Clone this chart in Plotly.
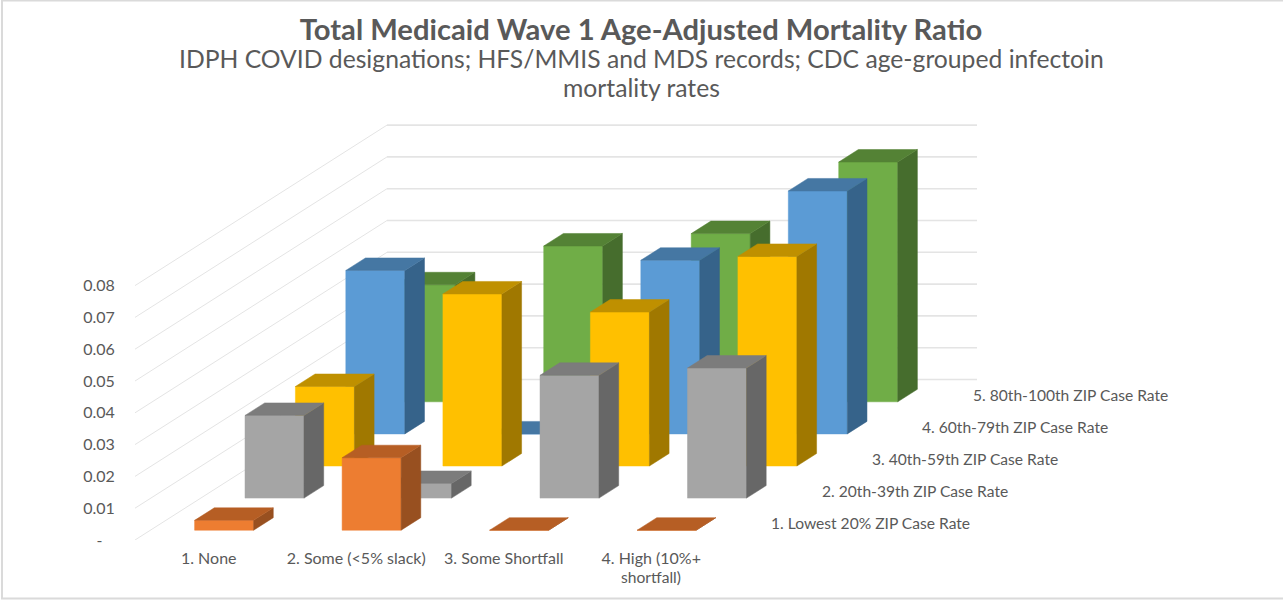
import plotly.graph_objects as go

# ---- data ----
categories = ["1. None", "2. Some (<5% slack)", "3. Some Shortfall", "4. High (10%+"]
category_continuation = "shortfall)"
series_names = ["1. Lowest 20% ZIP Case Rate", "2. 20th-39th ZIP Case Rate", "3. 40th-59th ZIP Case Rate",
                "4. 60th-79th ZIP Case Rate", "5. 80th-100th ZIP Case Rate"]
lowest_20 = [0.0031, 0.0228, 0.0, 0.0]
pct_20_39 = [0.026, 0.0046, 0.0386, 0.0409]
pct_40_59 = [0.025, 0.0541, 0.0484, 0.0659]
pct_60_79 = [0.0514, 0.0, 0.0546, 0.0764]
pct_80_100 = [0.0368, 0.049, 0.0529, 0.0754]
y_ticks = [0, 0.01, 0.02, 0.03, 0.04, 0.05, 0.06, 0.07, 0.08]
y_tick_labels = ["-\u00a0\u00a0\u00a0", "0.01", "0.02", "0.03", "0.04", "0.05", "0.06", "0.07", "0.08"]
title_text = "Total Medicaid Wave 1 Age-Adjusted Mortality Ratio"
subtitle_lines = ["IDPH COVID designations; HFS/MMIS and MDS records; CDC age-grouped infectoin", "mortality rates"]

series_values = [lowest_20, pct_20_39, pct_40_59, pct_60_79, pct_80_100]
front_colors = ["#ED7D31", "#A5A5A5", "#FFC000", "#5B9BD5", "#70AD47"]
top_colors = ["#B65E24", "#7C7C7C", "#BF9000", "#4577A3", "#548235"]
side_colors = ["#985020", "#676767", "#A07800", "#36638A", "#466D2D"]
GRID = "#E4E4E4"
TEXT = "#595959"
FONT = "Lato"

# ---- layout constants (pixels) ----
W, H = 1283, 600
L, T, B = 135, 100, 60
PX_PER_CAT = 147.5
PX_PER_VALUE = 3180.0
DEPTH_DX, DEPTH_DY = 50.4, 32.1      # oblique shift per series row
GAP = 0.3                            # gap each side of a bar in category units
BAR_W = 0.4
BAR_D = 0.39
D_GAP = (1 - BAR_D) / 2


def proj(x, d, v):
    """Oblique projection of (category, depth, value) on the 2D axes."""
    return x + d * DEPTH_DX / PX_PER_CAT, v + d * DEPTH_DY / PX_PER_VALUE


def poly(points):
    xs, ys = zip(*[proj(*p) for p in points])
    return list(xs) + [xs[0], None], list(ys) + [ys[0], None]


fig = go.Figure()

# walls' gridlines
n_cat, n_ser = len(categories), len(series_names)
for v in y_ticks:
    x0, y0 = proj(0, 0, v)
    x1, y1 = proj(0, n_ser, v)
    x2, y2 = proj(n_cat, n_ser, v)
    fig.add_trace(go.Scatter(x=[x0, x1], y=[y0, y1], mode="lines", line=dict(color=GRID, width=1), hoverinfo="skip"))
    fig.add_trace(go.Scatter(x=[x1, x2], y=[y1, y2], mode="lines", line=dict(color=GRID, width=1.6), hoverinfo="skip"))

# bars, painted from the back row to the front row
for s in range(n_ser - 1, -1, -1):
    fx, fy, tx, ty, sx, sy = [], [], [], [], [], []
    d0, d1 = s + D_GAP, s + D_GAP + BAR_D
    for c, v in enumerate(series_values[s]):
        x0, x1 = c + GAP, c + GAP + BAR_W
        a, b = poly([(x0, d0, 0), (x1, d0, 0), (x1, d0, v), (x0, d0, v)])
        fx += a; fy += b
        a, b = poly([(x0, d0, v), (x1, d0, v), (x1, d1, v), (x0, d1, v)])
        tx += a; ty += b
        a, b = poly([(x1, d0, 0), (x1, d1, 0), (x1, d1, v), (x1, d0, v)])
        sx += a; sy += b
    for xs, ys, col in ((fx, fy, front_colors[s]), (sx, sy, side_colors[s]), (tx, ty, top_colors[s])):
        fig.add_trace(go.Scatter(x=xs, y=ys, mode="lines", fill="toself", fillcolor=col,
                                 line=dict(color=col, width=0.5), name=series_names[s], hoverinfo="name"))


def paper_x(px):
    return (px - L) / (W - L)


def paper_y(py):
    return (H - B - py) / (H - B - T)


# depth axis labels
annotations = []
for s, name in enumerate(series_names):
    ax, ay = proj(n_cat, s + 0.5, 0)
    annotations.append(dict(x=ax, y=ay, xref="x", yref="y", text=name, showarrow=False, xanchor="left",
                            yanchor="middle", xshift=19, yshift=1, font=dict(family=FONT, size=15.6, color=TEXT)))

# subtitle lines and the wrapped part of the last category label
for line, py in zip(subtitle_lines, (59, 88)):
    annotations.append(dict(x=paper_x(641), y=paper_y(py), xref="paper", yref="paper", showarrow=False, text=line,
                            xanchor="center", yanchor="middle", font=dict(family=FONT, size=24.7, color=TEXT)))
annotations.append(dict(x=n_cat - 0.5, y=paper_y(577), xref="x", yref="paper", showarrow=False,
                        text=category_continuation, xanchor="center", yanchor="middle",
                        font=dict(family=FONT, size=15.6, color=TEXT)))

fig.update_layout(
    width=W, height=H, showlegend=False, plot_bgcolor="white", paper_bgcolor="white",
    margin=dict(l=L, r=0, t=T, b=B, pad=0),
    title=dict(text="<b>" + title_text + "</b>", x=641 / W, xanchor="center",
               y=1 - 30 / H, yanchor="middle", yref="container", font=dict(family=FONT, size=29.2, color=TEXT)),
    xaxis=dict(range=[0, (W - L) / PX_PER_CAT], tickvals=[i + 0.5 for i in range(n_cat)], ticktext=categories,
               showgrid=False, zeroline=False, showline=False, ticks="outside", ticklen=4, tickcolor="rgba(0,0,0,0)",
               tickfont=dict(family=FONT, size=16, color=TEXT), tickangle=0, fixedrange=True),
    yaxis=dict(range=[0, (H - B - T) / PX_PER_VALUE], tickvals=y_ticks, ticktext=y_tick_labels,
               showgrid=False, zeroline=False, showline=False, ticks="outside", ticklen=16, tickcolor="rgba(0,0,0,0)",
               tickfont=dict(family=FONT, size=16, color=TEXT), fixedrange=True),
    annotations=annotations,
    shapes=[dict(type="rect", xref="paper", yref="paper", x0=paper_x(2), x1=paper_x(1295), y0=paper_y(598.5), y1=paper_y(0.5),
                 line=dict(color="#DADADA", width=2), fillcolor="rgba(0,0,0,0)", layer="below")],
)

fig.write_html("out.html", post_script="document.body.style.margin='0';document.body.style.overflow='hidden';",
               config={"displayModeBar": False})
